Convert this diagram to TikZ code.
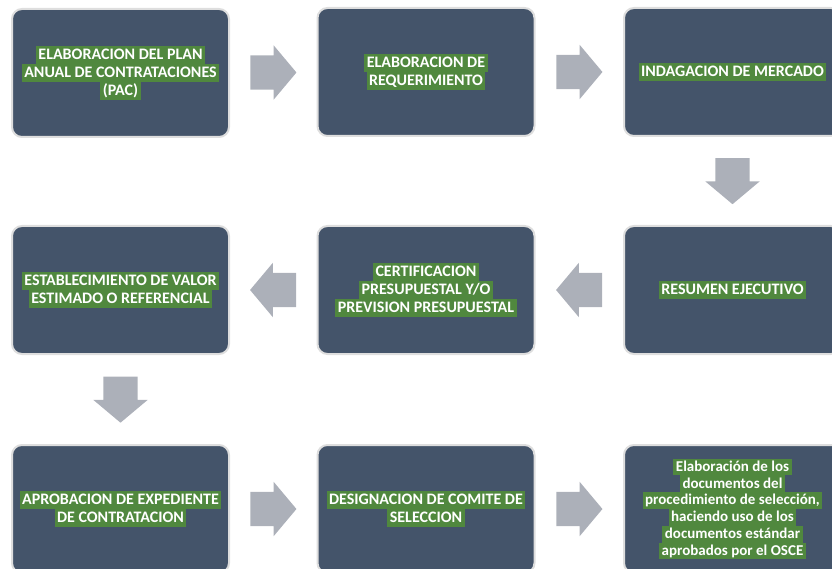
\documentclass[tikz,border=0pt]{standalone}
\usepackage{fontspec}
\setmainfont{Carlito}
\usepackage{xcolor}
\usetikzlibrary{shapes.arrows,calc}

\definecolor{boxblue}{HTML}{44546A}
\definecolor{boxrim}{HTML}{DEDEDE}
\definecolor{arrowgrey}{RGB}{172,176,185}
\definecolor{glowgreen}{RGB}{80,136,62}
\setlength{\fboxsep}{0pt}
\newcommand{\glow}[1]{\colorbox{glowgreen}{\hspace{2.5pt}\rule[-0.28em]{0pt}{1.12em}#1\hspace{2.5pt}}}

\begin{document}
\begin{tikzpicture}[x=1pt,y=-1pt,
  paso/.style={draw=boxrim, line width=2pt, fill=boxblue, rounded corners=10pt,
    minimum width=217pt, minimum height=128pt, inner sep=0pt, align=center,
    text=white, font=\bfseries\fontsize{16}{17.92}\selectfont},
  flecha/.style={single arrow, fill=arrowgrey, draw=none, inner xsep=0pt,
    inner ysep=17pt, minimum height=46pt, single arrow head extend=10pt,
    single arrow tip angle=100, anchor=tail}]
\clip (0,0) rectangle (832,569);

\node[paso] (pac) at (120.5,73) {\glow{ELABORACION DEL PLAN}\\\glow{ANUAL DE CONTRATACIONES}\\\glow{(PAC)}};
\node[paso] (req) at (426,72) {\glow{ELABORACION DE}\\\glow{REQUERIMIENTO}};
\node[paso] (mer) at (732.5,72) {\glow{INDAGACION DE MERCADO}};

\node[paso] (res) at (732.5,290) {\glow{RESUMEN EJECUTIVO}};
\node[paso] (cert) at (426,290) {\glow{CERTIFICACION}\\\glow{PRESUPUESTAL Y/O}\\\glow{PREVISION PRESUPUESTAL}};
\node[paso] (val) at (120.5,290) {\glow{ESTABLECIMIENTO DE VALOR}\\\glow{ESTIMADO O REFERENCIAL}};

\node[paso] (apr) at (120.5,509) {\glow{APROBACION DE EXPEDIENTE}\\\glow{DE CONTRATACION}};
\node[paso] (com) at (426,509) {\glow{DESIGNACION DE COMITE DE}\\\glow{SELECCION}};
\node[paso, font=\bfseries\fontsize{15}{16.8}\selectfont] (doc) at (732.5,509) {\glow{Elaboración de los}\\\glow{documentos del}\\\glow{procedimiento de selección,}\\\glow{haciendo uso de los}\\\glow{documentos estándar}\\\glow{aprobados por el OSCE}};

\node[flecha] (f1) at ($(pac.east)!0.5!(req.west)+(-23,0)$) {};
\node[flecha] (f2) at ($(req.east)!0.5!(mer.west)+(-23,0)$) {};
\node[flecha, rotate=-90] (f3) at ($(mer.south)!0.5!(res.north)+(0,-23)$) {};
\node[flecha, rotate=180] (f4) at ($(res.west)!0.5!(cert.east)+(23,0)$) {};
\node[flecha, rotate=180] (f5) at ($(cert.west)!0.5!(val.east)+(23,0)$) {};
\node[flecha, rotate=-90] (f6) at ($(val.south)!0.5!(apr.north)+(0,-23)$) {};
\node[flecha] (f7) at ($(apr.east)!0.5!(com.west)+(-23,0)$) {};
\node[flecha] (f8) at ($(com.east)!0.5!(doc.west)+(-23,0)$) {};

\end{tikzpicture}
\end{document}
